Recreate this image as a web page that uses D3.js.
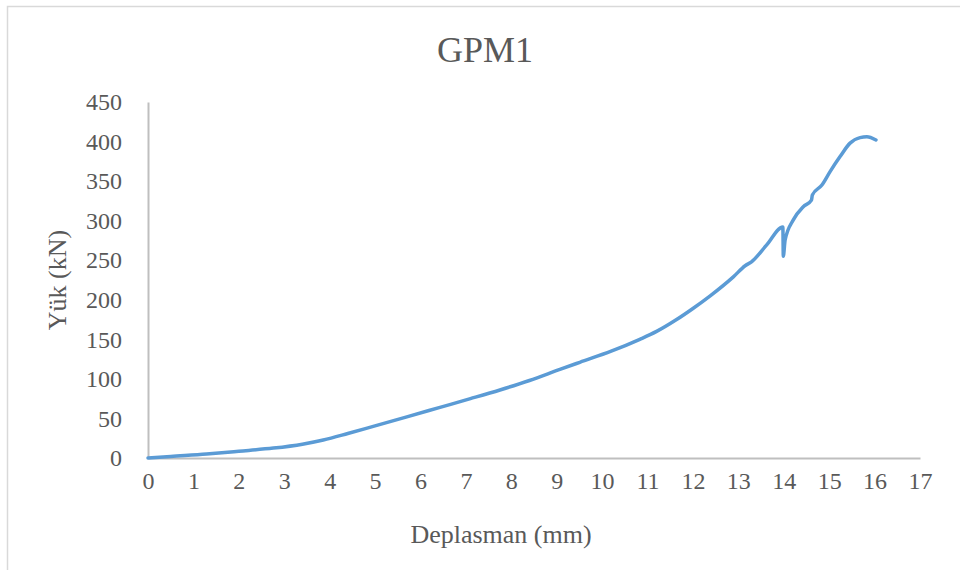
<!DOCTYPE html>
<html>
<head>
<meta charset="utf-8">
<script src="https://cdn.jsdelivr.net/npm/d3@7"></script>
<style>
  html, body { margin: 0; padding: 0; background: #fff; }
  svg { display: block; }
  text { font-family: "Liberation Serif", "Times New Roman", serif; fill: #595959; }
</style>
</head>
<body>
<svg id="chart" width="960" height="570"></svg>
<script>
// ---- data ----
const chartTitle = "GPM1";
const xTitle = "Deplasman (mm)";
const yTitle = "Yük (kN)";
const xTicks = [0,1,2,3,4,5,6,7,8,9,10,11,12,13,14,15,16,17];
const yTicks = [0,50,100,150,200,250,300,350,400,450];
const displacement = [0, 0.5, 1.29, 2, 2.76, 3.4, 3.86, 4.4, 4.96, 5.7, 6.43, 7.1, 7.75, 8.4, 9.07, 9.51, 10.2, 10.83, 11.2, 11.64, 12.0, 12.38, 12.89, 13.15, 13.29, 13.62, 13.98, 13.99, 14.03, 14.21, 14.43, 14.61, 14.63, 14.84, 15.02, 15.24, 15.46, 15.68, 15.83, 16.03];
const load = [0, 2, 5, 8.5, 12.5, 17.5, 22.8, 31, 40, 52, 64, 75, 86, 98, 112, 121, 135, 150, 160, 175, 189, 205, 229, 243, 248, 269, 292, 255, 275.6, 301, 317.7, 326, 332.5, 345, 362, 381, 398, 405, 406, 402];

const svg = d3.select("#chart");
const x = d3.scaleLinear().domain([0, 17]).range([148, 920]);
const y = d3.scaleLinear().domain([0, 450]).range([458, 102]);

// chart border
svg.append("rect").attr("x", 7.5).attr("y", 6.5).attr("width", 1000).attr("height", 1000)
  .attr("fill", "#fff").attr("stroke", "#D9D9D9").attr("stroke-width", 1.5);

// title
svg.append("text").attr("x", 485).attr("y", 62).attr("text-anchor", "middle")
  .style("font-size", "36px").text(chartTitle);

// x axis
const xAxis = d3.axisBottom(x).tickValues(xTicks).tickSize(0).tickPadding(14).tickFormat(d3.format("d"));
const gx = svg.append("g").attr("transform", "translate(0,458)").call(xAxis);
gx.select(".domain").attr("stroke", "#BFBFBF").attr("stroke-width", 2);
gx.selectAll("text").style("font-size", "24px").style("font-family", "Liberation Serif").attr("fill", "#595959");

// y axis
const yAxis = d3.axisLeft(y).tickValues(yTicks).tickSize(0).tickPadding(26).tickFormat(d3.format("d"));
const gy = svg.append("g").attr("transform", "translate(148,0)").call(yAxis);
gy.select(".domain").attr("stroke", "#BFBFBF").attr("stroke-width", 2);
gy.selectAll("text").style("font-size", "24px").style("font-family", "Liberation Serif").attr("fill", "#595959");

// axis titles
svg.append("text").attr("x", 501).attr("y", 543).attr("text-anchor", "middle")
  .style("font-size", "26px").text(xTitle);
svg.append("text").attr("transform", "translate(66,280) rotate(-90)").attr("text-anchor", "middle")
  .style("font-size", "26px").text(yTitle);

// series
const pts = displacement.map((d, i) => [d, load[i]]);
const line = d3.line().x(d => x(d[0])).y(d => y(d[1])).curve(d3.curveMonotoneX);
svg.append("path").datum(pts).attr("d", line).attr("fill", "none")
  .attr("stroke", "#5B9BD5").attr("stroke-width", 3.5)
  .attr("stroke-linejoin", "round").attr("stroke-linecap", "round");
</script>
</body>
</html>
